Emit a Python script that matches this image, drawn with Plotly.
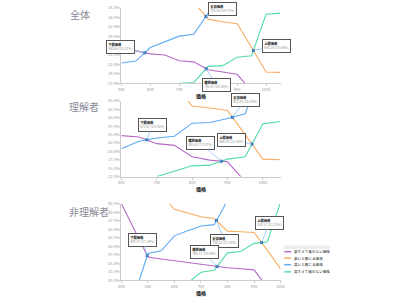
import numpy as np
import plotly.graph_objects as go

FONT = "Noto Sans CJK JP"
names = ["安すぎて買わない価格", "安いと感じる価格", "高いと感じる価格", "高すぎて買わない価格"]
colors = ["#b868c8", "#f8ad62", "#5eaaf5", "#52dcaa"]
titles = ["全体", "理解者", "非理解者"]

# ---- Panel 1: 全体 ----
p1_price = [500, 550, 600, 650, 700, 750, 800, 850, 900, 950, 1000, 1050]
p1_too_cheap = [26.1, 25.6, 24.8, 24.5, 23.0, 22.7, 20.6, 20.1, 19.4, 15.0, None, None]
p1_cheap = [None, None, None, None, None, 38.5, 34.0, 33.3, 32.8, 26.5, 20.0, 19.9]
p1_expensive = [22.4, 22.9, 26.5, 27.9, 29.5, 30.0, 35.6, 36.6, 37.3, 38.0, None, None]
p1_too_exp = [None, None, None, None, 17.0, 17.2, 21.5, 21.7, 23.9, 24.3, 35.3, 35.6]

# ---- Panel 2: 理解者 ----
p2_price = [600, 650, 700, 750, 800, 850, 900, 950, 1000, 1050]
p2_too_cheap = [24.7, 24.3, 22.3, 21.8, 18.4, 17.4, 16.9, 11.0, None, None]
p2_cheap = [None, None, None, 40.0, 33.5, 32.9, 32.2, 25.0, 17.7, 17.5]
p2_expensive = [20.8, 23.0, 24.0, 24.5, 28.4, 28.6, 29.8, 31.2, 45.0, None]
p2_too_exp = [None, None, 12.5, 14.1, 15.7, 15.9, 17.7, 18.4, 28.2, 28.9]

# ---- Panel 3: 非理解者 ----
p3_price = [400, 450, 500, 550, 600, 650, 700, 750, 800, 850, 900, 950, 1000]
p3_too_cheap = [42.6, 34.7, 26.9, 26.3, 25.8, 25.2, 24.6, 24.2, 23.7, 23.4, 23.1, 18.0, None]
p3_cheap = [None, None, None, 45.3, 40.9, 39.8, 38.7, 38.2, 34.5, 34.3, 34.1, 28.9, 23.4]
p3_expensive = [None, 15.9, 27.9, 28.7, 33.1, 34.6, 36.0, 36.4, 43.5, None, None, None, None]
p3_too_exp = [None, None, None, None, None, 19.2, 22.4, 23.0, 28.1, 28.5, 30.9, 31.3, 43.0]

panels = [
    (p1_price, [p1_too_cheap, p1_cheap, p1_expensive, p1_too_exp]),
    (p2_price, [p2_too_cheap, p2_cheap, p2_expensive, p2_too_exp]),
    (p3_price, [p3_too_cheap, p3_cheap, p3_expensive, p3_too_exp]),
]
x_ranges = [[500, 1050], [600, 1050], [400, 1000]]
x_ticks = [[500, 600, 700, 800, 900, 1000], [600, 700, 800, 900, 1000], [400, 500, 600, 700, 800, 900, 1000]]
y_ranges = [[17.0, 37.0], [12.5, 35.0], [20.0, 42.5]]
y_step = 2.5
y_domains = [[0.73, 0.987], [0.413, 0.67], [0.06, 0.32]]
title_pos = [(0.165, 0.963), (0.163, 0.653), (0.162, 0.293)]

# label, pair of series indices
cross_defs = [("下限価格", 0, 2), ("妥協価格", 1, 2), ("理想価格", 0, 3), ("上限価格", 1, 3)]
offsets = [
    {"下限価格": (-24, -6), "妥協価格": (17, -7), "理想価格": (10, 16), "上限価格": (23, -5)},
    {"下限価格": (6, -15), "妥協価格": (13, -17), "理想価格": (-21, -18), "上限価格": (-20, -4)},
    {"下限価格": (-5, -16), "妥協価格": (8, 20), "理想価格": (-13, -14), "上限価格": (8, -20)},
]


def crossing(xs, a, b):
    for i in range(len(xs) - 1):
        if None in (a[i], a[i + 1], b[i], b[i + 1]):
            continue
        d0 = a[i] - b[i]
        d1 = a[i + 1] - b[i + 1]
        if d0 == 0:
            return xs[i], a[i]
        if d0 * d1 < 0:
            t = d0 / (d0 - d1)
            return xs[i] + t * (xs[i + 1] - xs[i]), a[i] + t * (a[i + 1] - a[i])
    return None


fig = go.Figure()
annotations = []
shapes = []
for k, (xs, series) in enumerate(panels):
    ax_id = "" if k == 0 else str(k + 1)
    xref, yref = "x" + ax_id, "y" + ax_id
    for s, (nm, col, ys) in enumerate(zip(names, colors, series)):
        fig.add_trace(go.Scatter(
            x=xs, y=ys, mode="lines", name=nm, xaxis=xref, yaxis=yref,
            line=dict(color=col, width=1.1), connectgaps=False,
            showlegend=False, hoverinfo="skip"))
    px, py = [], []
    for label, i, j in cross_defs:
        c = crossing(xs, series[i], series[j])
        if c is None:
            continue
        cx, cy = c
        px.append(cx)
        py.append(cy)
        dx, dy = offsets[k][label]
        annotations.append(dict(
            x=cx, y=cy, xref=xref, yref=yref, ax=dx, ay=dy,
            showarrow=True, arrowhead=0, arrowwidth=0.8, arrowcolor="#8cc4f5",
            text=f"<b>{label}</b><br><span style='color:#999'>{cx:.2f} ({cy:.2f}%)</span>",
            font=dict(size=3.3, color="#111", family=FONT), align="left",
            bgcolor="white", bordercolor="#555", borderwidth=1, borderpad=1.2))
    fig.add_trace(go.Scatter(
        x=px, y=py, mode="markers", xaxis=xref, yaxis=yref, showlegend=False,
        marker=dict(size=3, color="#3b78b8", symbol="square"), hoverinfo="skip"))

    yt = list(np.arange(y_ranges[k][0], y_ranges[k][1] + 0.01, y_step))
    fig.layout["xaxis" + ax_id] = dict(
        domain=[0.302, 0.708], range=x_ranges[k], anchor=yref,
        tickvals=x_ticks[k], ticks="outside", ticklen=2, tickcolor="#ccc",
        showline=True, linecolor="#ccc", linewidth=1, showgrid=False, zeroline=False,
        tickfont=dict(size=4, color="#999", family=FONT),
        title=dict(text="<b>価格</b>", font=dict(size=5, color="#111", family=FONT), standoff=1))
    fig.layout["yaxis" + ax_id] = dict(
        domain=y_domains[k], range=y_ranges[k], anchor=xref,
        tickvals=yt, ticktext=[f"{v:.1f}%" for v in yt], ticks="",
        showline=True, linecolor="#ccc", linewidth=1, showgrid=False, zeroline=False,
        tickfont=dict(size=4, color="#999", family=FONT))
    tx, ty = title_pos[k]
    annotations.append(dict(
        x=tx, y=ty, xref="paper", yref="paper",
        xanchor="left", yanchor="middle", showarrow=False, text=titles[k],
        font=dict(size=10, color="#8a8a9a", family=FONT)))

# legend (drawn manually to keep its compact size)
leg_x0, leg_x1, leg_tx = 287 / 400, 294 / 400, 295 / 400
leg_y = [1 - 252.7 / 300, 1 - 259.3 / 300, 1 - 266 / 300, 1 - 273.3 / 300]
shapes.append(dict(type="rect", xref="paper", yref="paper", x0=286 / 400, x1=334 / 400,
                   y0=1 - 250 / 300, y1=1 - 246.5 / 300, fillcolor="#eeeeee", line=dict(width=0),
                   layer="below"))
for nm, col, ly in zip(names, colors, leg_y):
    shapes.append(dict(type="line", xref="paper", yref="paper", x0=leg_x0, x1=leg_x1,
                       y0=ly, y1=ly, line=dict(color=col, width=1.5)))
    annotations.append(dict(x=leg_tx, y=ly, xref="paper", yref="paper", xanchor="left",
                            yanchor="middle", showarrow=False, text=nm,
                            font=dict(size=3.6, color="#222", family=FONT)))

fig.update_layout(
    width=400, height=300, margin=dict(l=0, r=0, t=0, b=0),
    paper_bgcolor="white", plot_bgcolor="white",
    font=dict(family=FONT), showlegend=False,
    annotations=annotations, shapes=shapes,
)
fig.write_html("out.html")
